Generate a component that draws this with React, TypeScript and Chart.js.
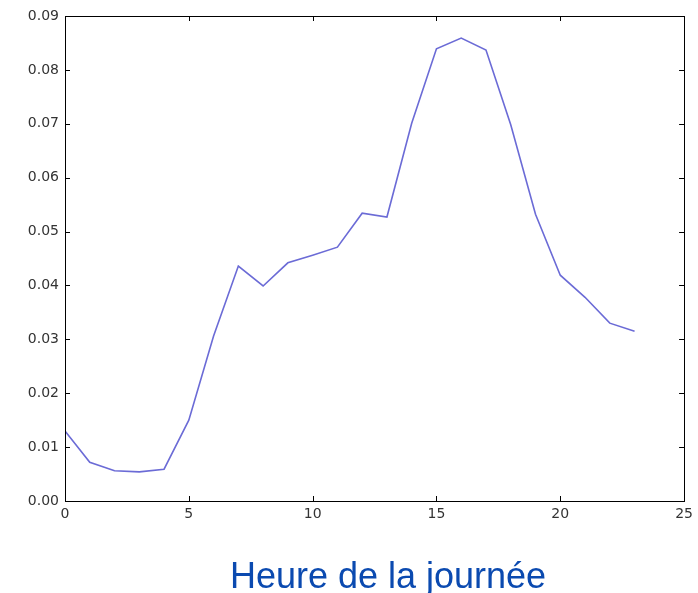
import React, { useEffect, useRef } from "react";
import { Chart, registerables } from "chart.js";

Chart.register(...registerables);

const hours = [0, 1, 2, 3, 4, 5, 6, 7, 8, 9, 10, 11, 12, 13, 14, 15, 16, 17, 18, 19, 20, 21, 22, 23];
const shares = [
  0.0130, 0.0072, 0.0056, 0.0054, 0.0059, 0.0150, 0.0306, 0.0436, 0.0399, 0.0442, 0.0456, 0.0471,
  0.0534, 0.0527, 0.0701, 0.0839, 0.0859, 0.0837, 0.0698, 0.0532, 0.0419, 0.0378, 0.0330, 0.0315,
];
const xLabel = "Heure de la journée";

const frameAndTicks = {
  id: "frameAndTicks",
  afterDatasetsDraw(chart: any) {
    const { ctx, chartArea: a, scales } = chart;
    ctx.save();
    ctx.strokeStyle = "#000";
    ctx.lineWidth = 1;
    const len = 5;
    ctx.beginPath();
    scales.x.ticks.forEach((t: any) => {
      const px = Math.round(scales.x.getPixelForValue(t.value)) + 0.5;
      ctx.moveTo(px, a.bottom);
      ctx.lineTo(px, a.bottom - len);
      ctx.moveTo(px, a.top);
      ctx.lineTo(px, a.top + len);
    });
    scales.y.ticks.forEach((t: any) => {
      const py = Math.round(scales.y.getPixelForValue(t.value)) + 0.5;
      ctx.moveTo(a.left, py);
      ctx.lineTo(a.left + len, py);
      ctx.moveTo(a.right, py);
      ctx.lineTo(a.right - len, py);
    });
    ctx.stroke();
    ctx.strokeRect(Math.round(a.left) + 0.5, Math.round(a.top) + 0.5, Math.round(a.right - a.left), Math.round(a.bottom - a.top));
    ctx.restore();
  },
  afterDraw(chart: any) {
    const { ctx } = chart;
    ctx.save();
    ctx.fillStyle = "#0b4ab0";
    ctx.font = "36px 'Liberation Sans', Arial, sans-serif";
    ctx.textAlign = "center";
    ctx.textBaseline = "alphabetic";
    ctx.fillText(xLabel, 388, 588);
    ctx.restore();
  },
};

export default function App() {
  const ref = useRef<HTMLCanvasElement>(null);
  useEffect(() => {
    document.body.style.margin = "0";
    const chart = new Chart(ref.current!, {
      type: "line",
      data: {
        labels: hours,
        datasets: [
          {
            data: hours.map((h, i) => ({ x: h, y: shares[i] })),
            borderColor: "#6b6bd6",
            borderWidth: 1.6,
            pointRadius: 0,
            tension: 0,
            fill: false,
          },
        ],
      },
      options: {
        animation: false,
        responsive: false,
        maintainAspectRatio: false,
        layout: { padding: { top: 16, right: 11, left: 0, bottom: 0 } },
        plugins: { legend: { display: false }, tooltip: { enabled: false } },
        scales: {
          x: {
            type: "linear",
            min: 0,
            max: 25,
            grid: { display: false, drawTicks: false },
            border: { display: true, color: "#000" },
            ticks: {
              stepSize: 5,
              padding: 5,
              color: "#333",
              font: { family: "'DejaVu Sans', sans-serif", size: 14 },
              maxRotation: 0,
            },
            afterFit: (s: any) => {
              s.height = 92;
            },
          },
          y: {
            min: 0,
            max: 0.09,
            grid: { display: false, drawTicks: false },
            border: { display: true, color: "#000" },
            ticks: {
              stepSize: 0.01,
              padding: 6,
              color: "#333",
              font: { family: "'DejaVu Sans', sans-serif", size: 14 },
              callback: (v: any) => Number(v).toFixed(2),
            },
            afterFit: (s: any) => {
              s.width = 65;
            },
          },
        },
      },
      plugins: [frameAndTicks],
    });
    return () => chart.destroy();
  }, []);
  return (
    <div style={{ width: 698, height: 593, background: "#fff" }}>
      <canvas ref={ref} width={698} height={593} />
    </div>
  );
}
